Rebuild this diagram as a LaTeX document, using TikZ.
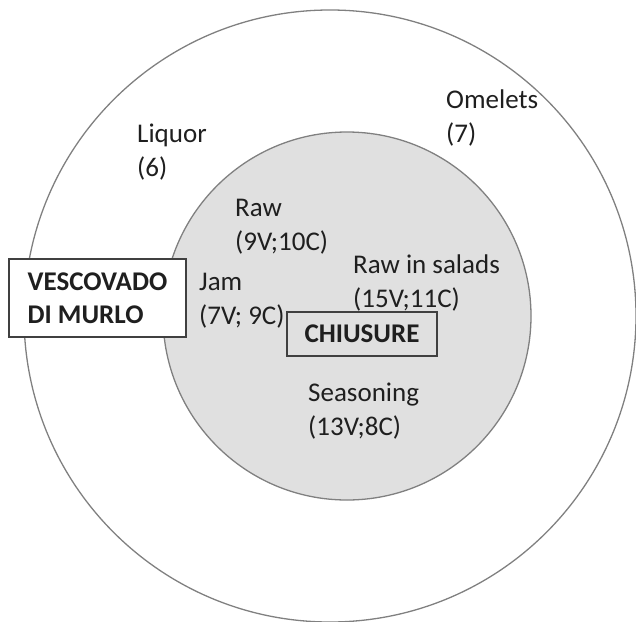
\documentclass[tikz,border=0pt]{standalone}
\usepackage{fontspec}
\setmainfont{Carlito}
\begin{document}
\begin{tikzpicture}[x=1pt,y=-1pt,
  ring/.style={draw=black!50,line width=1.3pt},
  lbl/.style={anchor=west,align=left,inner sep=0pt,text=black!88,
    font=\fontsize{27}{34}\selectfont},
  site/.style={draw=black!75,line width=1.2pt,align=left,
    text=black!88,font=\fontsize{27}{33}\selectfont\bfseries}]
\useasboundingbox (0,0) rectangle (636,621);
% rings
\draw[ring] (330,316) circle [radius=306];
\draw[ring,fill=black!12] (347,316) circle [radius=184];
% outer ring labels
\node[lbl] (liquor) at (137,152) {Liquor\\(6)};
\node[lbl] (omelets) at (446,118) {Omelets\\(7)};
% inner ring labels
\node[lbl] (raw) at (235,227) {Raw\\(9V;10C)};
\node[lbl] (jam) at (199,301) {Jam\\(7V; 9C)};
\node[lbl] (salads) at (353,283) {Raw in salads\\(15V;11C)};
\node[lbl] (seasoning) at (308,411) {Seasoning\\(13V;8C)};
% sites
\node[site,fill=white,minimum width=177,minimum height=78] (vescovado)
  at (97.5,298) {VESCOVADO\\DI MURLO};
\node[site,minimum width=150,minimum height=44] (chiusure) at (362,334)
  {CHIUSURE};
\end{tikzpicture}
\end{document}
